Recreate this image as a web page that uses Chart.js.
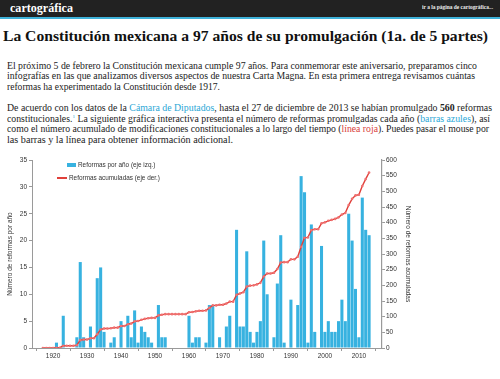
<!DOCTYPE html>
<html>
<head>
<meta charset="utf-8">
<script src="https://cdn.jsdelivr.net/npm/chart.js@4"></script>
<style>
	body { margin:0; width:500px; height:379px; overflow:hidden; background:#fff; position:relative; font-family:'Liberation Serif', serif; color:#222; }
	.t { position:absolute; white-space:nowrap; transform-origin:0 0; }
	.p { font-size:9.6px; line-height:11px; }
	.az { color:#2aa7d6; }
	.rj { color:#d8403a; }
	.lg { position:absolute; white-space:nowrap; font:6.4px 'Liberation Sans', sans-serif; color:#333; line-height:8px; }
</style>
</head>
<body>
<div style="position:absolute; left:0; top:0; width:500px; height:17px; background:#222;"></div>
<div style="position:absolute; left:0; top:17px; width:500px; height:2px; background:#3fb2d9;"></div>
<div class="t" data-w="63" style="left:10px; top:1px; font-weight:bold; font-size:12.5px; line-height:14px; color:#fff;">cartográfica</div>
<div class="t" data-w="71" style="left:422px; top:4px; font-weight:bold; font-size:5.4px; line-height:6px; color:#eee;">ir a la página de cartográfica...</div>

<div class="t" data-w="485" style="left:3px; top:28.5px; font-weight:bold; font-size:13.6px; line-height:16px; color:#111;">La Constitución mexicana a 97 años de su promulgación (1a. de 5 partes)</div>

<div class="t p" data-w="470" style="left:7px; top:59.5px;">El próximo 5 de febrero la Constitución mexicana cumple 97 años. Para conmemorar este aniversario, preparamos cinco</div>
<div class="t p" data-w="468" style="left:7px; top:70.3px;">infografías en las que analizamos diversos aspectos de nuestra Carta Magna. En esta primera entrega revisamos cuántas</div>
<div class="t p" data-w="213" style="left:7px; top:81.1px;">reformas ha experimentado la Constitución desde 1917.</div>

<div class="t p" data-w="485" style="left:7px; top:101.8px;">De acuerdo con los datos de la <span class="az">Cámara de Diputados</span>, hasta el 27 de diciembre de 2013 se habían promulgado <b>560</b> reformas</div>
<div class="t p" data-w="483" style="left:7px; top:112.6px;">constitucionales.<sup class="az" style="font-size:5px; line-height:0;">1</sup> La siguiente gráfica interactiva presenta el número de reformas promulgadas cada año (<span class="az">barras azules</span>), así</div>
<div class="t p" data-w="482" style="left:7px; top:123.4px;">como el número acumulado de modificaciones constitucionales a lo largo del tiempo (<span class="rj">línea roja</span>). Puedes pasar el mouse por</div>
<div class="t p" data-w="226" style="left:7px; top:134.2px;">las barras y la línea para obtener información adicional.</div>

<div id="grafica" style="position:absolute; left:0; top:150px; width:414px; height:220px;"><canvas id="c"></canvas></div>

<div style="position:absolute; left:67px; top:162.5px; width:9px; height:4px; background:#37b2e0;"></div>
<div class="lg" style="left:78px; top:160.5px;">Reformas por año (eje izq.)</div>
<div style="position:absolute; left:57px; top:177px; width:10px; height:2px; background:#e0403a;"></div>
<div class="lg" style="left:69px; top:174px;">Reformas acumuladas (eje der.)</div>

<script>
const anios = [1917,1918,1919,1920,1921,1922,1923,1924,1925,1926,1927,1928,1929,1930,1931,1932,1933,1934,1935,1936,1937,1938,1939,1940,1941,1942,1943,1944,1945,1946,1947,1948,1949,1950,1951,1952,1953,1954,1955,1956,1957,1958,1959,1960,1961,1962,1963,1964,1965,1966,1967,1968,1969,1970,1971,1972,1973,1974,1975,1976,1977,1978,1979,1980,1981,1982,1983,1984,1985,1986,1987,1988,1989,1990,1991,1992,1993,1994,1995,1996,1997,1998,1999,2000,2001,2002,2003,2004,2005,2006,2007,2008,2009,2010,2011,2012,2013]

const reformasAnio = [0,0,0,0,1,0,6,0,0,0,2,16,2,0,4,0,13,15,3,0,1,2,0,5,0,6,2,7,1,4,3,2,1,0,8,2,2,0,0,0,0,0,0,6,1,2,2,0,1,8,8,0,2,0,4,6,0,22,4,4,18,3,1,3,5,20,10,0,2,12,21,1,0,9,0,8,32,29,1,23,3,0,19,3,5,3,3,5,9,5,25,20,11,2,28,22,21]

const reformasAcum = [0,0,0,0,1,1,7,7,7,7,9,25,27,27,31,31,44,59,62,62,63,65,65,70,70,76,78,85,86,90,93,95,96,96,104,106,108,108,108,108,108,108,108,114,115,117,119,119,120,128,136,136,138,138,142,148,148,170,174,178,196,199,200,203,208,228,238,238,240,252,273,274,274,283,283,291,323,352,353,376,379,379,398,401,406,409,412,417,426,431,456,476,487,489,517,539,560]

const decadas = [1920,1930,1940,1950,1960,1970,1980,1990,2000,2010]

const ejeIzq = { min:0, max:35, paso:5 }
const ejeDer = { min:0, max:600, paso:50 }
const rangoAnios = { min:1913.8, max:2016.8 }

const azul = '#37b2e0'
const rojo = '#e0403a'
const gris = '#9a9a9a'
const fuente = { family:"'Liberation Sans', sans-serif", size:6.5 }

const c = new Chart(document.getElementById('c'), {
	type: 'bar',
	data: {
		datasets: [{
			type: 'line',
			label: 'Reformas acumuladas (eje der.)',
			data: anios.map((a,i) => ({ x:a, y:reformasAcum[i] })),
			yAxisID: 'y2',
			borderColor: rojo,
			borderWidth: 1.4,
			pointRadius: 1.3,
			pointBackgroundColor: '#f07070',
			pointBorderWidth: 0,
			tension: 0,
			order: 0,
		},
		{
			label: 'Reformas por año (eje izq.)',
			data: anios.map((a,i) => ({ x:a, y:reformasAnio[i] })),
			yAxisID: 'y',
			backgroundColor: azul,
			borderWidth: 0,
			barPercentage: 0.9,
			categoryPercentage: 1,
			order: 1,
		}]
	},
	options: {
		responsive: true,
		maintainAspectRatio: false,
		animation: false,
		layout: { padding: { top:10, left:0, right:0, bottom:0 } },
		plugins: {
			legend: { display:false },
			tooltip: { enabled:false },
		},
		scales: {
			x: {
				type: 'linear',
				min: rangoAnios.min,
				max: rangoAnios.max,
				offset: false,
				afterFit: s => { s.height = 22 },
				afterBuildTicks: s => { s.ticks = decadas.map(v => ({ value:v })) },
				grid: { display:true, drawOnChartArea:false, drawTicks:true, tickLength:3, color:gris },
				border: { display:true, color:gris, width:1 },
				ticks: { color:'#333', font:fuente, padding:1, maxRotation:0, autoSkip:false, callback: v => String(v) },
			},
			y: {
				position: 'left',
				min: ejeIzq.min,
				max: ejeIzq.max,
				afterFit: s => { s.width = 32 },
				grid: { display:true, drawOnChartArea:false, drawTicks:true, tickLength:3, color:gris },
				border: { display:true, color:gris, width:1 },
				ticks: { stepSize:ejeIzq.paso, color:'#333', font:fuente, padding:2 },
				title: { display:true, text:'Número de reformas por año', color:'#333', font:fuente, padding:6 },
			},
			y2: {
				position: 'right',
				min: ejeDer.min,
				max: ejeDer.max,
				afterFit: s => { s.width = 32 },
				grid: { display:true, drawOnChartArea:false, drawTicks:true, tickLength:3, color:gris },
				border: { display:true, color:gris, width:1.2 },
				ticks: { stepSize:ejeDer.paso, color:'#333', font:fuente, padding:1 },
				title: { display:true, text:'Número de reformas acumuladas', color:'#333', font:fuente, padding:2 },
			},
		},
	}
});

document.querySelectorAll('[data-w]').forEach(e => {
	const w = e.getBoundingClientRect().width
	e.style.transform = `scaleX(${e.dataset.w / w})`
})
</script>
</body>
</html>
